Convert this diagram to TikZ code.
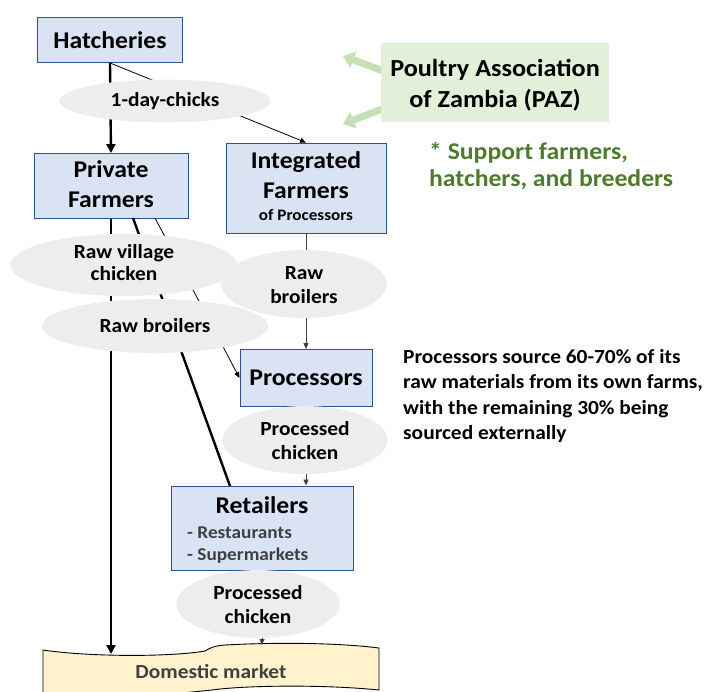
\documentclass[tikz,border=0pt]{standalone}
\usepackage{fontspec}
\setmainfont{Carlito}[FakeStretch=1.07]
\usetikzlibrary{arrows.meta,shapes.geometric}
\definecolor{boxfill}{HTML}{DAE3F3}
\definecolor{boxline}{HTML}{2F528F}
\definecolor{ovalfill}{HTML}{EDEDED}
\definecolor{pazfill}{HTML}{E2F0D9}
\definecolor{pazarrow}{HTML}{C5E0B4}
\definecolor{pazgreen}{HTML}{4E7A2E}
\definecolor{marketfill}{HTML}{FFF2CC}
\definecolor{subgray}{HTML}{404040}
\newcommand\stack[2][c]{\begin{tabular}[t]{@{}#1@{}}#2\end{tabular}}
% two-line label set a little lower inside its oval
\newcommand\lowstack[1]{\raisebox{-3pt}[\height][\depth]{\stack{#1}}}
\begin{document}
\begin{tikzpicture}[x=1pt,y=-1pt,
  actor/.style={draw=boxline,fill=boxfill,line width=0.9pt,inner sep=0pt,
    font=\bfseries\fontsize{24}{30}\selectfont},
  flow/.style={fill=ovalfill,ellipse,inner sep=0pt,
    font=\bfseries\fontsize{20}{24}\selectfont},
  thick flow/.style={line width=2.4pt,draw=black},
  thin flow/.style={line width=0.8pt,draw=black},
  bigtip/.style={-{Triangle[width=9pt,length=9pt]}},
  smalltip/.style={-{Triangle[width=5pt,length=6pt]}},
  greenarrow/.style={draw=pazarrow,line width=7pt,
    -{Triangle[width=17pt,length=11pt]}}]
\useasboundingbox (0,0) rectangle (708,691);

% actors
\node[actor,minimum width=145pt,minimum height=45pt] (hatch) at (110,40) {Hatcheries};
\node[actor,minimum width=154pt,minimum height=65pt] (priv) at (111,186) {\stack{Private\\Farmers}};
\node[actor,minimum width=160pt,minimum height=90pt] (integ) at (306,188)
  {\stack{Integrated\\Farmers\\[-8pt]{\fontsize{16}{18}\selectfont of Processors}}};
\node[actor,minimum width=132pt,minimum height=57pt] (proc) at (306,378) {Processors};
\node[actor,minimum width=182pt,minimum height=84pt] (ret) at (262,528) {};
\node[font=\bfseries\fontsize{24}{30}\selectfont,anchor=base] (ret-t) at (262,513) {Retailers};
\node[font=\bfseries\fontsize{18}{22.5}\selectfont,text=subgray,anchor=base west,inner sep=0pt]
  (ret-s) at (187,538) {\stack[l]{- Restaurants\\- Supermarkets}};

% domestic market
\path[draw=black,fill=marketfill,line width=0.9pt]
  (43,650) .. controls (90,657) and (170,657) .. (205,651)
  .. controls (210,648) and (213,646) .. (225,645)
  .. controls (280,642) and (340,643) .. (379,648)
  -- (379,690) .. controls (330,685) and (260,685) .. (220,689)
  .. controls (180,694) and (120,698) .. (43,698) -- cycle;
\node[font=\bfseries\fontsize{20}{24}\selectfont,text=subgray,anchor=base] (market)
  at (211,678) {Domestic market};
\coordinate (mk-a) at (111,654);
\coordinate (mk-b) at (262,645);

% connectors
\draw[thick flow,bigtip] (hatch.south) -- (priv.north);
\draw[thin flow,smalltip] (hatch.south) -- (integ.north);
\draw[thick flow,bigtip] (priv.south) -- (mk-a);
\draw[thick flow] (133,218) -- (230,486);
\draw[thin flow,smalltip] (155,218) -- (proc.west);
\draw[thin flow,draw=black!75,smalltip] (integ.south) -- (proc.north);
\draw[thin flow,draw=black!75,smalltip] (proc.south) -- (ret.north -| proc.south);
\draw[thin flow,draw=black!75,smalltip] (ret.south) -- (mk-b);

% flow labels
\node[flow,minimum width=211pt,minimum height=43pt] (chicks) at (165,101) {1-day-chicks};
\node[flow,minimum width=227pt,minimum height=46pt,font=\bfseries\fontsize{20}{22}\selectfont]
  (village) at (124,265) {\stack{Raw village\\chicken}};
\node[flow,minimum width=226pt,minimum height=54pt] (rawL) at (155,326) {Raw broilers};
\node[flow,minimum width=166pt,minimum height=54pt] (rawR) at (304,284) {\lowstack{Raw\\broilers}};
\node[flow,minimum width=165pt,minimum height=54pt] (procM) at (305,440) {\lowstack{Processed\\chicken}};
\node[flow,minimum width=163pt,minimum height=52pt] (procB) at (258,604) {\lowstack{Processed\\chicken}};

% association
\draw[greenarrow] (386,72) -- (343,56);
\draw[greenarrow] (390,106) -- (343,124);
\node[fill=pazfill,minimum width=228pt,minimum height=79pt,inner sep=0pt] (paz) at (495,82.5) {};
\node[font=\bfseries\fontsize{24.5}{31}\selectfont,anchor=base,inner sep=0pt] (paz-t)
  at (495,76) {\stack{Poultry Association\\of Zambia (PAZ)}};
\node[font=\bfseries\fontsize{24}{27.5}\selectfont,text=pazgreen,anchor=base west,inner sep=0pt]
  (support) at (429,159) {\stack[l]{* Support farmers,\\hatchers, and breeders}};

% note
\node[font=\bfseries\fontsize{20}{25.5}\selectfont,anchor=base west,inner sep=0pt]
  (note) at (403,363) {\stack[l]{Processors source 60-70\% of its\\raw materials from its own farms,\\with the remaining 30\% being\\sourced externally}};
\end{tikzpicture}
\end{document}
